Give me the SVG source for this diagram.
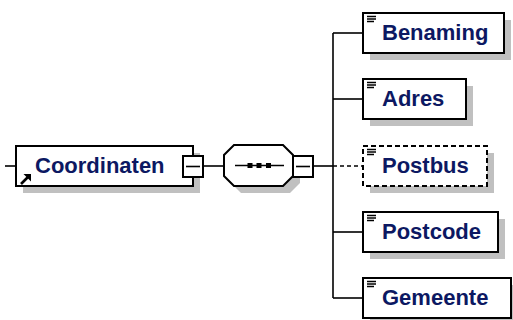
<svg xmlns="http://www.w3.org/2000/svg" width="513" height="320" viewBox="0 0 513 320">
<style>
.bg{fill:#ffffff}
.shadow{fill:#c0c0c0;stroke:none}
.box{fill:#ffffff;stroke:#000000;stroke-width:2}
.opt{fill:#ffffff;stroke:#000000;stroke-width:2;stroke-dasharray:5 3}
.lbl{font-family:"Liberation Sans",Arial,sans-serif;font-weight:bold;font-size:22px;fill:#0c1862}
.ln{stroke:#000000;stroke-width:1.6;fill:none}
.dl{stroke:#000000;stroke-width:1.6;fill:none;stroke-dasharray:4 3}
.ic{stroke:#000000;stroke-width:1.5}
</style>
<rect class="bg" x="0" y="0" width="513" height="320"/>
<g id="connectors">
<line class="ln" x1="5" y1="166" x2="16" y2="166"/>
<line class="ln" x1="203" y1="166" x2="224" y2="166"/>
<line class="ln" x1="313" y1="166" x2="333" y2="166"/>
<line class="ln" x1="333" y1="33" x2="333" y2="298"/>
<line class="ln" x1="333" y1="33" x2="363" y2="33"/>
<line class="ln" x1="333" y1="99" x2="363" y2="99"/>
<line class="dl" x1="333" y1="166" x2="363" y2="166"/>
<line class="ln" x1="333" y1="232" x2="363" y2="232"/>
<line class="ln" x1="333" y1="298" x2="363" y2="298"/>
</g>
<g id="Coordinaten">
<rect class="shadow" x="23" y="153" width="177" height="40"/>
<rect class="box" x="16" y="146" width="177" height="40"/>
<text class="lbl" x="35" y="173">Coordinaten</text>
<path d="M21 184 L28 177" stroke="#000" stroke-width="2.6"/>
<path d="M23.5 174 L31 174 L31 181.5 Z" fill="#000"/>
<rect class="box" x="183" y="156" width="20" height="21"/>
<line class="ln" x1="186" y1="166.5" x2="200" y2="166.5"/>
</g>
<g id="sequence">
<polygon class="shadow" points="241,152 290,152 300,162 300,183 290,193 241,193 231,183 231,162"/>
<polygon class="box" points="234,145 283,145 293,155 293,176 283,186 234,186 224,176 224,155"/>
<line class="ln" x1="235" y1="165.5" x2="284" y2="165.5"/>
<rect x="247.5" y="163" width="5" height="5" fill="#000"/>
<rect x="256.5" y="163" width="5" height="5" fill="#000"/>
<rect x="266" y="163" width="5" height="5" fill="#000"/>
<rect class="box" x="293" y="156" width="20" height="21"/>
<line class="ln" x1="296" y1="166.5" x2="310" y2="166.5"/>
</g>
<g id="Benaming">
<rect class="shadow" x="370" y="20" width="141" height="40"/>
<rect class="box" x="363" y="13" width="141" height="40"/>
<line class="ic" x1="367" y1="16.5" x2="376" y2="16.5"/>
<line class="ic" x1="367" y1="19" x2="376" y2="19"/>
<line class="ic" x1="367" y1="21.5" x2="374" y2="21.5"/>
<text class="lbl" x="382" y="40">Benaming</text>
</g>
<g id="Adres">
<rect class="shadow" x="370" y="86" width="103" height="40"/>
<rect class="box" x="363" y="79" width="103" height="40"/>
<line class="ic" x1="367" y1="82.5" x2="376" y2="82.5"/>
<line class="ic" x1="367" y1="85" x2="376" y2="85"/>
<line class="ic" x1="367" y1="87.5" x2="374" y2="87.5"/>
<text class="lbl" x="382" y="106">Adres</text>
</g>
<g id="Postbus">
<rect class="shadow" x="370" y="153" width="124" height="40"/>
<rect class="opt" x="363" y="146" width="124" height="40"/>
<line class="ic" x1="367" y1="149.5" x2="376" y2="149.5"/>
<line class="ic" x1="367" y1="152" x2="376" y2="152"/>
<line class="ic" x1="367" y1="154.5" x2="374" y2="154.5"/>
<text class="lbl" x="382" y="173">Postbus</text>
</g>
<g id="Postcode">
<rect class="shadow" x="370" y="219" width="135" height="40"/>
<rect class="box" x="363" y="212" width="135" height="40"/>
<line class="ic" x1="367" y1="215.5" x2="376" y2="215.5"/>
<line class="ic" x1="367" y1="218" x2="376" y2="218"/>
<line class="ic" x1="367" y1="220.5" x2="374" y2="220.5"/>
<text class="lbl" x="382" y="239">Postcode</text>
</g>
<g id="Gemeente">
<rect class="shadow" x="370" y="285" width="148" height="40"/>
<rect class="box" x="363" y="278" width="148" height="40"/>
<line class="ic" x1="367" y1="281.5" x2="376" y2="281.5"/>
<line class="ic" x1="367" y1="284" x2="376" y2="284"/>
<line class="ic" x1="367" y1="286.5" x2="374" y2="286.5"/>
<text class="lbl" x="382" y="305">Gemeente</text>
</g>
</svg>
